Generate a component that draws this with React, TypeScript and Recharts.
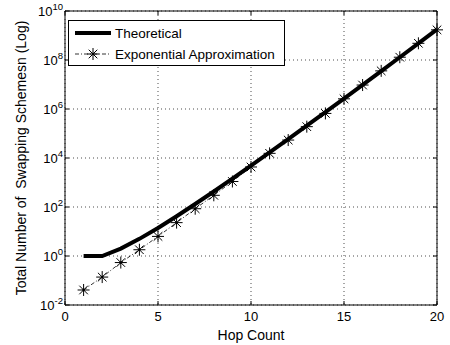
import React from 'react';
import { LineChart, Line, XAxis, YAxis, CartesianGrid, ReferenceArea } from 'recharts';

const hopCount = [1, 2, 3, 4, 5, 6, 7, 8, 9, 10, 11, 12, 13, 14, 15, 16, 17, 18, 19, 20];
const theoretical = [1, 1, 2, 5, 14, 42, 132, 429, 1430, 4862, 16796, 58786, 208012, 742900, 2674440, 9694845, 35357670, 129644790, 477638700, 1767263190];
const approximation = [0.041, 0.138, 0.54, 1.8, 6.3, 23, 85, 300, 1100, 4300, 15500, 54000, 190000, 660000, 2600000, 9500000, 36000000, 130000000, 480000000, 1700000000];
const xTicks = [0, 5, 10, 15, 20];
const yTicks = [1e-2, 1e0, 1e2, 1e4, 1e6, 1e8, 1e10];
const yExponents = ['-2', '0', '2', '4', '6', '8', '10'];

const data = hopCount.map((h, i) => ({ hop: h, theo: theoretical[i], approx: approximation[i] }));

const FONT = '"Liberation Sans", Arial, Helvetica, sans-serif';
const PLOT_W = 372;
const PLOT_H = 294;
const TICK = 4;

const XTick = (props: any) => {
  const { x, y, payload } = props;
  return (
    <g>
      <line x1={x} x2={x} y1={y} y2={y - TICK} stroke="#000" strokeWidth={1} />
      <line x1={x} x2={x} y1={y - PLOT_H} y2={y - PLOT_H + TICK} stroke="#000" strokeWidth={1} />
      <text x={x} y={y + 16} textAnchor="middle" fontSize={13} fontFamily={FONT} fill="#000">
        {payload.value}
      </text>
    </g>
  );
};

const YTick = (props: any) => {
  const { x, y, payload, index } = props;
  const idx = yTicks.findIndex((t) => Math.abs(Math.log10(t) - Math.log10(payload.value)) < 1e-6);
  const exp = idx >= 0 ? yExponents[idx] : yExponents[index];
  return (
    <g>
      <line x1={x} x2={x + TICK} y1={y} y2={y} stroke="#000" strokeWidth={1} />
      <line x1={x + PLOT_W} x2={x + PLOT_W - TICK} y1={y} y2={y} stroke="#000" strokeWidth={1} />
      <text x={x - 2} y={y + 5} textAnchor="end" fontSize={13} fontFamily={FONT} fill="#000">
        <tspan>10</tspan>
        <tspan dy={-6} fontSize={9.5}>{exp}</tspan>
      </text>
    </g>
  );
};

const Star = (props: any) => {
  const { cx, cy } = props;
  if (cx == null || cy == null) return null;
  const r = 6;
  const d = 4.3;
  return (
    <g stroke="#000" strokeWidth={1}>
      <line x1={cx - r} x2={cx + r} y1={cy} y2={cy} />
      <line x1={cx} x2={cx} y1={cy - r} y2={cy + r} />
      <line x1={cx - d} x2={cx + d} y1={cy - d} y2={cy + d} />
      <line x1={cx - d} x2={cx + d} y1={cy + d} y2={cy - d} />
      <circle cx={cx} cy={cy} r={1.2} fill="#000" stroke="none" />
    </g>
  );
};

const LegendBox = () => (
  <div
    style={{
      position: 'absolute',
      left: 68,
      top: 20,
      width: 217,
      height: 46,
      boxSizing: 'border-box',
      border: '1px solid #000',
      background: '#fff',
    }}
  >
    <svg width={215} height={44} style={{ position: 'absolute', left: 0, top: 0 }}>
      <line x1={6} x2={42} y1={12} y2={12} stroke="#000" strokeWidth={4} />
      <line x1={6} x2={42} y1={33} y2={33} stroke="#000" strokeWidth={0.8} strokeDasharray="4 2 1 2" />
      <Star cx={24} cy={33} />
      <text x={46} y={17} fontSize={13.5} fontFamily={FONT} fill="#000">Theoretical</text>
      <text x={46} y={38} fontSize={13.5} fontFamily={FONT} fill="#000">Exponential Approximation</text>
    </svg>
  </div>
);

export default function App() {
  return (
    <div style={{ position: 'absolute', left: 0, top: 0, width: 450, height: 345, background: '#fff' }}>
      <LineChart width={450} height={345} data={data} margin={{ top: 11, right: 13, left: 0, bottom: 0 }}>
        <CartesianGrid stroke="#000" strokeDasharray="1 3" strokeWidth={0.7} />
        <XAxis
          dataKey="hop"
          type="number"
          domain={[0, 20]}
          ticks={xTicks}
          height={40}
          tickSize={0}
          tickMargin={0}
          axisLine={false}
          tickLine={false}
          tick={<XTick />}
          interval={0}
          label={{ value: 'Hop Count', position: 'insideBottom', offset: 5, fontSize: 14, fontFamily: FONT, fill: '#000' }}
        />
        <YAxis
          scale="log"
          domain={[1e-2, 1e10]}
          ticks={yTicks}
          allowDataOverflow
          width={65}
          tickSize={0}
          tickMargin={0}
          axisLine={false}
          tickLine={false}
          tick={<YTick />}
          interval={0}
          label={{
            value: 'Total Number of \u00a0Swapping Schemesn (Log)',
            angle: -90,
            position: 'insideLeft',
            offset: 21,
            fontSize: 14,
            fontFamily: FONT,
            fill: '#000',
            style: { textAnchor: 'middle', whiteSpace: 'pre' },
          }}
        />
        <ReferenceArea x1={0} x2={20} y1={1e-2} y2={1e10} fill="none" stroke="#000" strokeWidth={1} ifOverflow="visible" />
        <Line dataKey="theo" stroke="#000" strokeWidth={4} dot={false} isAnimationActive={false} />
        <Line
          dataKey="approx"
          stroke="#000"
          strokeWidth={0.8}
          strokeDasharray="4 2 1 2"
          dot={<Star />}
          activeDot={false}
          isAnimationActive={false}
        />
      </LineChart>
      <LegendBox />
    </div>
  );
}
